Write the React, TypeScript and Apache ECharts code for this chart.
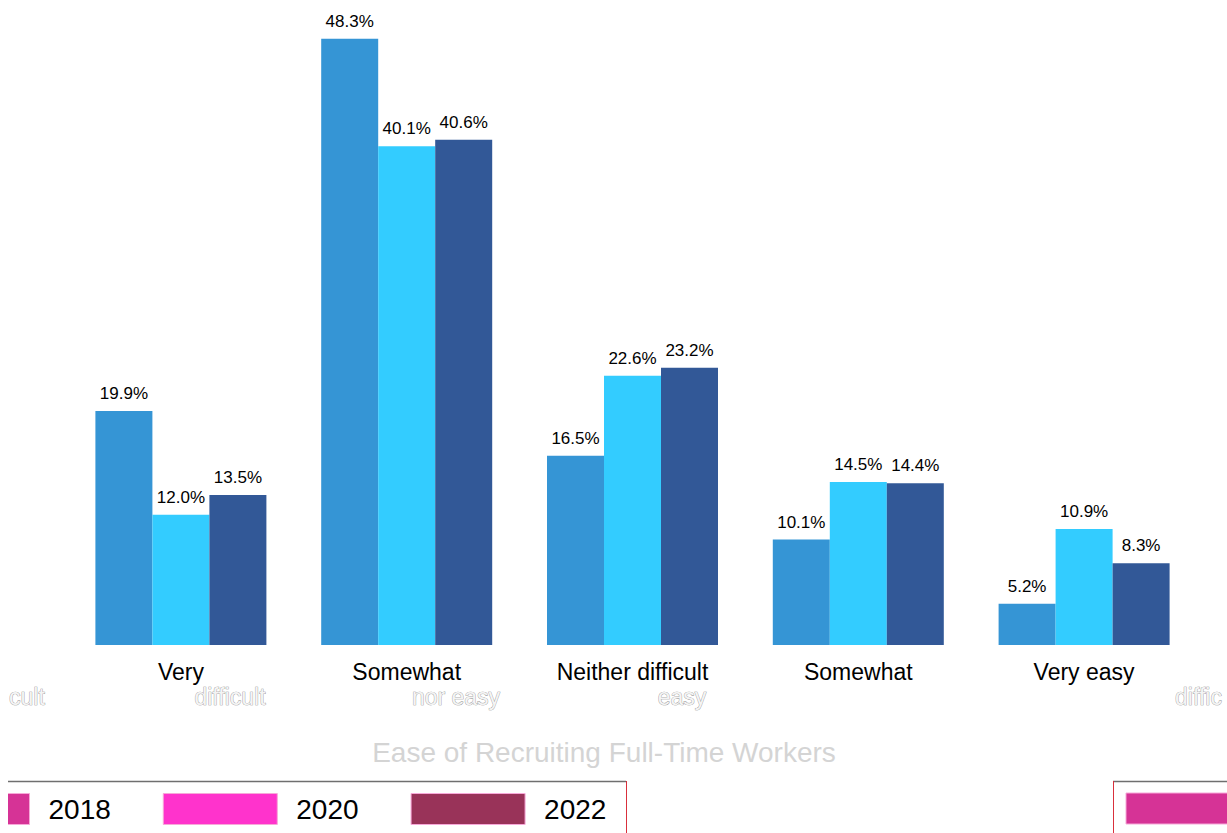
import React, { useEffect, useRef } from "react";
import * as echarts from "echarts";

const categories = [
  "Very difficult",
  "Somewhat difficult",
  "Neither difficult nor easy",
  "Somewhat easy",
  "Very easy",
];
const firstLines = ["Very", "Somewhat", "Neither difficult", "Somewhat", "Very easy"];
const years = ["2018", "2020", "2022"];
const values2018 = [19.9, 48.3, 16.5, 10.1, 5.2];
const values2020 = [12.0, 40.1, 22.6, 14.5, 10.9];
const values2022 = [13.5, 40.6, 23.2, 14.4, 8.3];
const barColors = ["#3595d5", "#33ccff", "#325897"];
const legendColors = ["#d63396", "#ff33cc", "#993359"];
const chartTitle = "Ease of Recruiting Full-Time Workers";
const strayLabels = ["cult", "difficult", "nor easy", "easy", "diffic"];

const FONT = "'Liberation Sans', Arial, Helvetica, sans-serif";

export default function App() {
  const ref = useRef<HTMLDivElement>(null);

  useEffect(() => {
    if (!ref.current) return;
    const chart = echarts.init(ref.current, undefined, { renderer: "svg" });
    const seriesValues = [values2018, values2020, values2022];

    const strayStyle = {
      fontSize: 23,
      fontFamily: FONT,
      fill: "#f4f4f4",
      stroke: "#8a8a8a",
      lineWidth: 0.7,
    };

    chart.setOption({
      animation: false,
      backgroundColor: "#ffffff",
      grid: { left: 60, right: 30, top: 16.5, bottom: 188, containLabel: false },
      xAxis: {
        type: "category",
        data: categories,
        axisLine: { show: false },
        axisTick: { show: false },
        axisLabel: {
          color: "#000",
          fontSize: 23,
          fontFamily: FONT,
          margin: 15,
          interval: 0,
          formatter: (_v: string, i: number) => firstLines[i],
        },
      },
      yAxis: {
        type: "value",
        min: 2.06,
        max: 50,
        show: false,
        splitLine: { show: false },
      },
      legend: {
        left: -93,
        top: 793,
        padding: 0,
        orient: "horizontal",
        itemWidth: 114,
        itemHeight: 31,
        itemGap: 52,
        selectedMode: false,
        icon: "rect",
        textStyle: {
          color: "#000",
          fontSize: 28,
          fontFamily: FONT,
          padding: [0, 0, 0, 14],
        },
        data: years.map((y, i) => ({
          name: y,
          itemStyle: { color: legendColors[i], borderColor: "#f7a8d8", borderWidth: 1 },
        })),
      },
      series: years.map((y, i) => ({
        name: y,
        type: "bar",
        data: seriesValues[i],
        barWidth: 57,
        barGap: "0%",
        itemStyle: { color: barColors[i] },
        label: {
          show: true,
          position: "top",
          distance: 9,
          color: "#000",
          fontSize: 17,
          fontFamily: FONT,
          formatter: (p: any) => Number(p.value).toFixed(1) + "%",
        },
      })),
      graphic: [
        {
          type: "text",
          x: 1,
          y: 697,
          style: { ...strayStyle, text: strayLabels[0], align: "left", verticalAlign: "middle" },
        },
        {
          type: "text",
          x: 222,
          y: 697,
          style: { ...strayStyle, text: strayLabels[1], align: "center", verticalAlign: "middle" },
        },
        {
          type: "text",
          x: 448,
          y: 697,
          style: { ...strayStyle, text: strayLabels[2], align: "center", verticalAlign: "middle" },
        },
        {
          type: "text",
          x: 674,
          y: 697,
          style: { ...strayStyle, text: strayLabels[3], align: "center", verticalAlign: "middle" },
        },
        {
          type: "text",
          x: 1167,
          y: 697,
          style: { ...strayStyle, text: strayLabels[4], align: "left", verticalAlign: "middle" },
        },
        {
          type: "text",
          x: 596,
          y: 752,
          style: {
            text: chartTitle,
            fontSize: 28,
            fontFamily: FONT,
            fill: "#d4d4d4",
            align: "center",
            verticalAlign: "middle",
          },
        },
        {
          type: "line",
          shape: { x1: 0, y1: 781.5, x2: 618, y2: 781.5 },
          style: { stroke: "#6f6f6f", lineWidth: 1.5 },
        },
        {
          type: "line",
          shape: { x1: 618.5, y1: 781, x2: 618.5, y2: 833 },
          style: { stroke: "#d9303c", lineWidth: 1 },
        },
        {
          type: "line",
          shape: { x1: 1105, y1: 781.5, x2: 1219, y2: 781.5 },
          style: { stroke: "#6f6f6f", lineWidth: 1.5 },
        },
        {
          type: "line",
          shape: { x1: 1105.5, y1: 781, x2: 1105.5, y2: 833 },
          style: { stroke: "#d9303c", lineWidth: 1 },
        },
        {
          type: "rect",
          shape: { x: 1118, y: 793, width: 110, height: 31 },
          style: { fill: legendColors[0], stroke: "#f7a8d8", lineWidth: 1 },
        },
      ],
    });

    return () => chart.dispose();
  }, []);

  return (
    <div
      ref={ref}
      style={{ position: "absolute", left: 8, top: 0, width: 1219, height: 833 }}
    />
  );
}
